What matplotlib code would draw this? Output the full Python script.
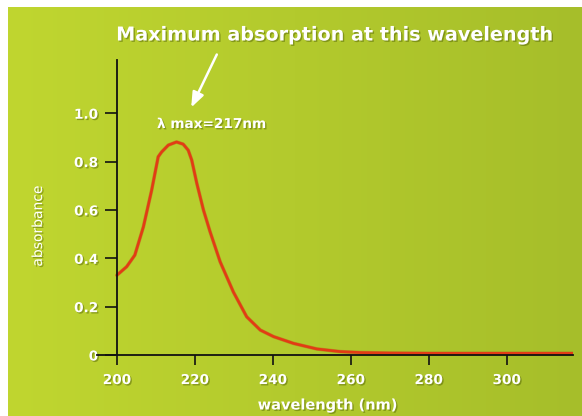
import numpy as np
import matplotlib
matplotlib.use("Agg")
import matplotlib.pyplot as plt
import matplotlib.patheffects as pe

# ---- data ----
wavelength = [200, 202.5, 204.6, 206.8, 208.9, 210.6, 211.5, 213.2, 215.3, 217.0,
              218.3, 219.2, 220.5, 222.2, 223.9, 226.5, 229.9, 233.3, 236.8,
              240.2, 245.3, 251.3, 257.3, 262.5, 270, 280, 290, 300, 310, 317]
absorbance = [0.33, 0.365, 0.413, 0.53, 0.68, 0.82, 0.84, 0.868, 0.881, 0.872,
              0.847, 0.806, 0.71, 0.60, 0.51, 0.385, 0.26, 0.158, 0.103,
              0.076, 0.048, 0.025, 0.014, 0.010, 0.008, 0.007, 0.007, 0.007,
              0.007, 0.007]
x_ticks = [200, 220, 240, 260, 280, 300]
x_ticklabels = ["200", "220", "240", "260", "280", "300"]
y_ticks = [0, 0.2, 0.4, 0.6, 0.8, 1.0]
y_ticklabels = ["0", "0.2", "0.4", "0.6", "0.8", "1.0"]
title = "Maximum absorption at this wavelength"
peak_label = "λ max=217nm"
x_label = "wavelength (nm)"
y_label = "absorbance"

W, H = 582, 416
fig = plt.figure(figsize=(W / 100, H / 100), dpi=100)
fig.patch.set_facecolor("white")

# background gradient
bg = fig.add_axes([8 / W, 0, 1 - 8 / W, 1 - 7 / H], zorder=0)
c1 = np.array([0xc0, 0xd6, 0x30]) / 255
c2 = np.array([0xa6, 0xbe, 0x2a]) / 255
t = np.linspace(0, 1, 256)[None, :, None]
grad = c1 * (1 - t) + c2 * t
bg.imshow(grad, aspect="auto", extent=[0, 1, 0, 1])
bg.set_axis_off()

shadow = [pe.SimplePatchShadow(offset=(1, -1), shadow_rgbFace="#4a5a00", alpha=0.45), pe.Normal()]

# main axes
left, right = 97 / W, 573 / W
bottom, top = (H - 355) / H, (H - 60) / H
ax = fig.add_axes([left, bottom, right - left, top - bottom], zorder=1)
ax.patch.set_alpha(0)
ax.set_xlim(194.9, 317)
ax.set_ylim(0, 1.22)
ax.plot(wavelength, absorbance, color="#e23c14", lw=1.9, solid_capstyle="round",
        solid_joinstyle="round",
        path_effects=[pe.Stroke(linewidth=2.6, foreground="#c0501a", alpha=0.45), pe.Normal()])

for s in ["top", "right"]:
    ax.spines[s].set_visible(False)
ax.spines["left"].set_position(("data", 200))
ax.spines["left"].set_color("#111111")
ax.spines["bottom"].set_color("#111111")
ax.spines["left"].set_linewidth(1.3)
ax.spines["bottom"].set_linewidth(1.3)

ax.set_xticks(x_ticks)
ax.set_xticklabels(x_ticklabels)
ax.set_yticks(y_ticks)
ax.set_yticklabels(y_ticklabels)
ax.tick_params(axis="x", direction="out", length=7, width=1.2, color="#111111", pad=6,
               labelsize=9.8, labelcolor="white")
ax.tick_params(axis="y", direction="out", length=8.5, width=1.2, color="#111111", pad=5,
               labelsize=9.8, labelcolor="white")
for lab in ax.get_xticklabels() + ax.get_yticklabels():
    lab.set_fontweight("bold")
    lab.set_path_effects(shadow)

fig.text(38 / W, 1 - 226 / H, y_label, rotation=90, ha="center", va="center",
         color="white", fontsize=10, path_effects=shadow)
fig.text(328 / W, 1 - 405 / H, x_label, ha="center", va="center",
         color="white", fontsize=10.5, fontweight="bold", path_effects=shadow)

fig.text(335 / W, 1 - 35 / H, title, ha="center", va="center", color="white",
         fontsize=13.8, fontweight="bold", path_effects=shadow)
fig.text(157 / W, 1 - 124 / H, peak_label, ha="left", va="center", color="white",
         fontsize=9.8, fontweight="bold", path_effects=shadow)

ax.annotate("", xy=(190 / W, 1 - 110 / H), xycoords="figure fraction",
            xytext=(218 / W, 1 - 52 / H), textcoords="figure fraction",
            arrowprops=dict(arrowstyle="-|>,head_length=0.9,head_width=0.35",
                            color="white", lw=1.8))

fig.savefig("out.png", dpi=100)
